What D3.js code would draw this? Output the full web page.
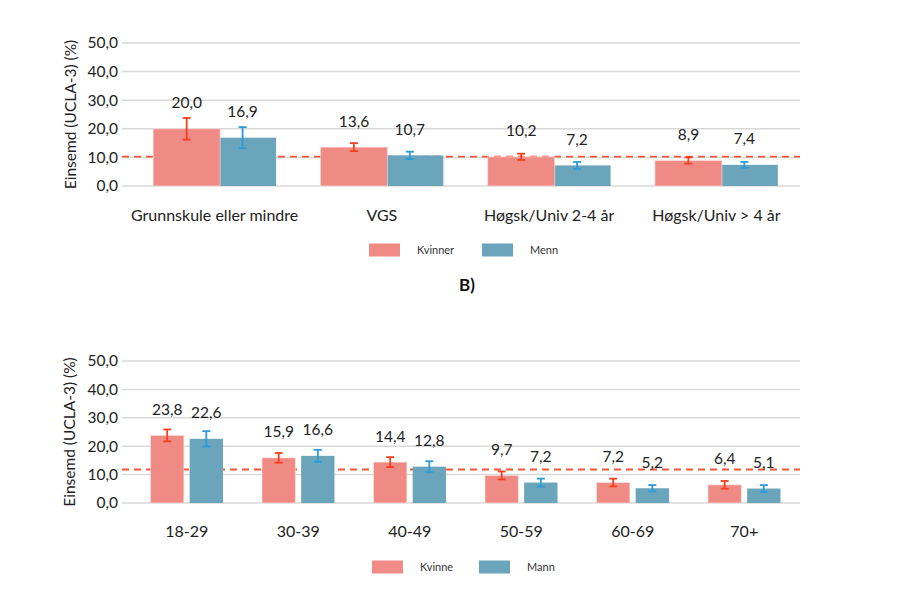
<!DOCTYPE html>
<html><head><meta charset="utf-8">
<script src="https://cdn.jsdelivr.net/npm/d3@7"></script>
<style>body{margin:0;background:#fff;} svg{display:block;font-family:Lato,"Open Sans",sans-serif;}</style>
</head><body>
<svg id="c" width="907" height="589"></svg>
<script>
// Panel A: education
const catsA = ["Grunnskule eller mindre","VGS","Høgsk/Univ 2-4 år","Høgsk/Univ > 4 år"];
const seriesA = ["Kvinner","Menn"];
const kvinnerA = [20.0,13.6,10.2,8.9];
const mennA = [16.9,10.7,7.2,7.4];
const kvinnerAErr = [3.8,1.4,1.1,1.1];
const mennAErr = [3.7,1.3,1.2,1.0];
const refA = 10.3;

// Panel B: age
const catsB = ["18-29","30-39","40-49","50-59","60-69","70+"];
const seriesB = ["Kvinne","Mann"];
const kvinneB = [23.8,15.9,14.4,9.7,7.2,6.4];
const mannB = [22.6,16.6,12.8,7.2,5.2,5.1];
const kvinneBErr = [2.1,1.7,1.75,1.4,1.35,1.35];
const mannBErr = [2.7,2.1,1.9,1.4,1.1,1.2];
const refB = 11.8;

const yTicks = [0,10,20,30,40,50];
const yTitle = "Einsemd (UCLA-3) (%)";

const colK = "#F08A85", colM = "#6BA5BC", errK = "#F5401F", errM = "#2C9BDB", refCol = "#F5563A";
const fmt = v => v.toFixed(1).replace(".", ",");
const svg = d3.select("#c");

function panel(opt){
  const g = svg.append("g");
  const y = d3.scaleLinear().domain([0,50]).range([opt.y0, opt.y50]);
  const x0 = d3.scaleBand().domain(opt.cats).range([131,800]).paddingInner(opt.pad).paddingOuter(opt.pad/2);
  g.append("g").selectAll("line").data(yTicks).join("line")
    .attr("x1",122).attr("x2",800).attr("y1",d=>y(d)).attr("y2",d=>y(d))
    .attr("stroke","#d9d9d9").attr("stroke-width",1.5);
  g.append("g").selectAll("text").data(yTicks).join("text")
    .attr("x",118).attr("y",d=>y(d)).attr("dy","0.35em").attr("text-anchor","end")
    .attr("font-size",15.5).attr("fill","#222").text(d=>fmt(d));
  g.append("text").attr("transform",`translate(${opt.titleX},${(opt.y0+opt.y50)/2}) rotate(-90)`)
    .attr("text-anchor","middle").attr("dy","0.35em").attr("font-size",15.5).attr("fill","#222").text(yTitle);
  g.append("line").attr("x1",122).attr("x2",800).attr("y1",y(opt.ref)).attr("y2",y(opt.ref))
    .attr("stroke",refCol).attr("stroke-width",1.8).attr("stroke-dasharray","7,5");
  const bw = x0.bandwidth();
  const barW = bw*opt.barFrac;
  const x1 = d3.scalePoint().domain(opt.series).range([0, bw - barW]);
  const rows = [];
  opt.cats.forEach((c,i)=>{
    rows.push({c, s:opt.series[1], v:opt.vM[i], e:opt.eM[i], col:colM, ec:errM});
    rows.push({c, s:opt.series[0], v:opt.vK[i], e:opt.eK[i], col:colK, ec:errK});
  });
  g.append("g").selectAll("rect").data(rows).join("rect")
    .attr("x",d=>x0(d.c)+x1(d.s)).attr("width",barW)
    .attr("y",d=>y(d.v)).attr("height",d=>y(0)-y(d.v))
    .attr("fill",d=>d.col).attr("stroke","#fbe6e4").attr("stroke-opacity",d=>d.col===colK?0.6:0).attr("stroke-width",1);
  const eg = g.append("g").selectAll("g").data(rows).join("g")
    .attr("stroke",d=>d.ec).attr("stroke-width",1.8);
  const cx = d=>x0(d.c)+x1(d.s)+barW/2;
  eg.append("line").attr("x1",cx).attr("x2",cx)
    .attr("y1",d=>y(d.v+d.e)).attr("y2",d=>y(d.v-d.e));
  eg.append("line").attr("x1",d=>cx(d)-4).attr("x2",d=>cx(d)+4)
    .attr("y1",d=>y(d.v+d.e)).attr("y2",d=>y(d.v+d.e));
  eg.append("line").attr("x1",d=>cx(d)-4).attr("x2",d=>cx(d)+4)
    .attr("y1",d=>y(d.v-d.e)).attr("y2",d=>y(d.v-d.e));
  g.append("g").selectAll("text").data(rows).join("text")
    .attr("x",cx).attr("y",d=>y(d.v)-26).attr("dy","0.35em")
    .attr("text-anchor","middle").attr("font-size",15.5).attr("fill","#222").text(d=>fmt(d.v));
  g.append("g").selectAll("text").data(opt.cats).join("text")
    .attr("x",d=>x0(d)+bw/2).attr("y",opt.catY).attr("dy","0.35em")
    .attr("text-anchor","middle").attr("font-size",16).attr("fill","#222").text(d=>d);
  const lg = g.append("g");
  opt.series.forEach((s,i)=>{
    lg.append("rect").attr("x",opt.legX[i]).attr("y",opt.legY-6.5).attr("width",31).attr("height",13)
      .attr("fill",i===0?colK:colM);
    lg.append("text").attr("x",opt.legTX[i]).attr("y",opt.legY).attr("dy","0.35em")
      .attr("font-size",11).attr("fill","#333").text(s);
  });
}

panel({cats:catsA, series:seriesA, vK:kvinnerA, vM:mennA, eK:kvinnerAErr, eM:mennAErr, ref:refA,
  y0:186, y50:43, pad:0.265, barFrac:0.545, titleX:71, catY:215,
  legX:[369,482], legTX:[417,530], legY:250});
panel({cats:catsB, series:seriesB, vK:kvinneB, vM:mannB, eK:kvinneBErr, eM:mannBErr, ref:refB,
  y0:503, y50:361, pad:0.35, barFrac:0.46, titleX:70, catY:531,
  legX:[372,479], legTX:[420,527], legY:567});

svg.append("text").attr("x",467).attr("y",285).attr("dy","0.35em").attr("text-anchor","middle")
  .attr("font-size",17).attr("font-weight","bold").attr("fill","#111").text("B)");
</script>
</body></html>
